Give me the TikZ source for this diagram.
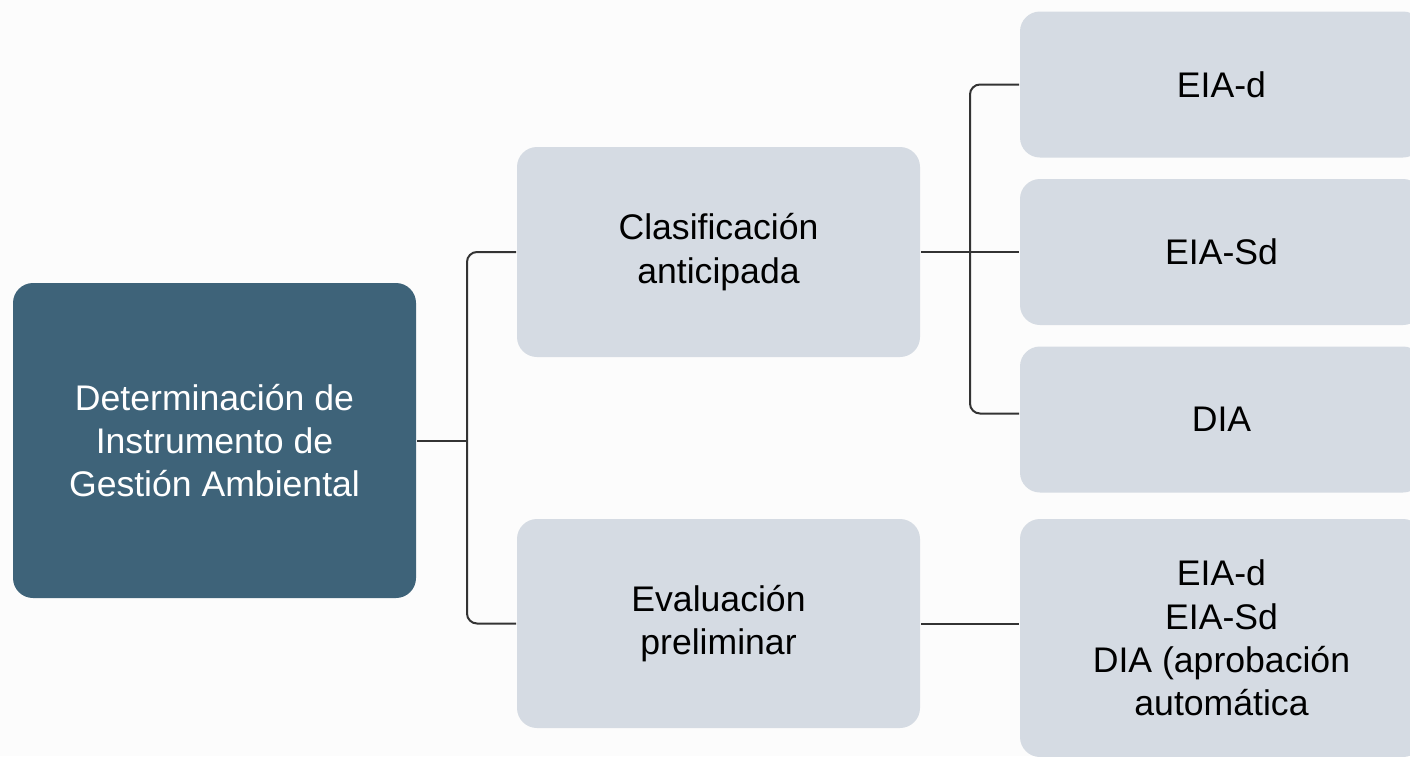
\documentclass[tikz,border=0pt]{standalone}
\usepackage{fontspec}
\setmainfont{Liberation Sans}
\usetikzlibrary{positioning}
\definecolor{rootblue}{HTML}{3E6379}
\definecolor{boxgray}{HTML}{D5DBE3}
\definecolor{linegray}{HTML}{333333}

\begin{document}
\begin{tikzpicture}[x=0.5pt,y=-0.5pt,line width=1pt,draw=linegray]
\tikzstyle{every node}=[font=\fontsize{17.8}{21.7}\selectfont,align=center,inner sep=0pt,rounded corners=10pt]
\tikzstyle{leaf}=[fill=boxgray,text=black,minimum width=201.5pt]
\fill[white!99!black] (0,0) rectangle (1410,756);
\useasboundingbox (0,0) rectangle (1410,756);
\begin{scope}
\clip (0,0) rectangle (1410,756);
\node[fill=rootblue,text=white,minimum width=201.5pt,minimum height=157.5pt] (root) at (214.5,440.5) {Determinación de\\Instrumento de\\Gestión Ambiental};
\node[leaf,minimum height=105pt] (clas) at (718.5,252) {Clasificación\\anticipada};
\node[leaf,minimum height=104.5pt] (eval) at (718.5,623.5) {Evaluación\\preliminar};
\node[leaf,minimum height=73pt] (eiad) at (1221.5,84.5) {EIA-d};
\node[leaf,minimum height=73pt] (eiasd) at (1221.5,252) {EIA-Sd};
\node[leaf,minimum height=73pt] (dia) at (1221.5,419.5) {DIA};
\node[leaf,minimum height=119pt] (last) at (1221.5,638) {EIA-d\\EIA-Sd\\DIA (aprobación\\automática};
\coordinate (j1) at (467,440.5);
\coordinate (j2) at (970,252);
\draw (root.east) -- (j1);
\draw[rounded corners=5pt] (clas.west) -| (j1) |- (eval.west);
\draw (clas.east) -- (eiasd.west);
\draw[rounded corners=5pt] (eiad.west) -| (j2) |- ([yshift=3pt]dia.west);
\draw (eval.east) -- (eval.east -| last.west);
\end{scope}
\end{tikzpicture}
\end{document}
